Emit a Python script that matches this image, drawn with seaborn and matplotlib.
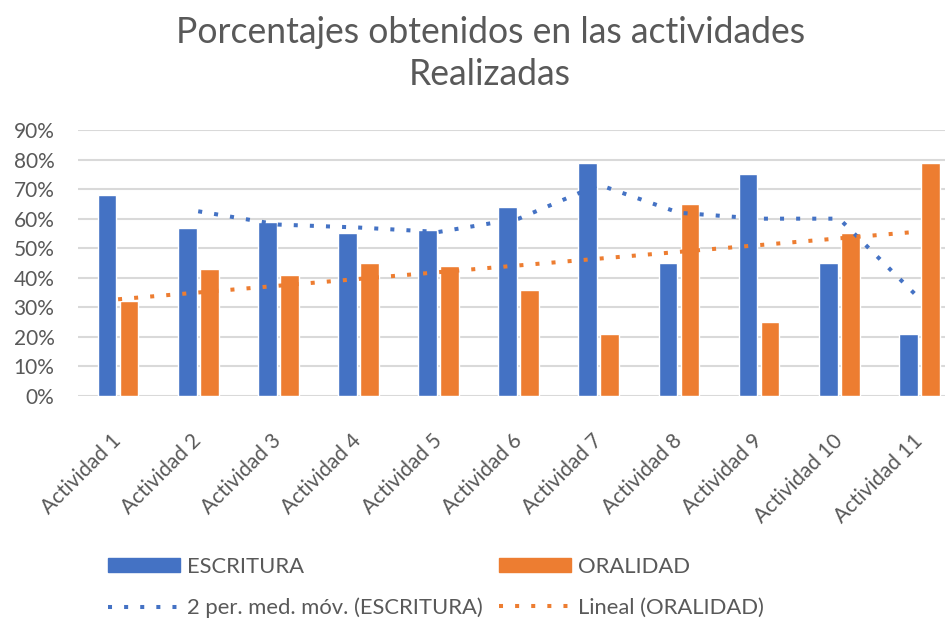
import numpy as np
import pandas as pd
import seaborn as sns
import matplotlib.pyplot as plt
from matplotlib.patches import Patch
from matplotlib.lines import Line2D
from matplotlib.ticker import FuncFormatter

actividades = ["Actividad %d" % i for i in range(1, 12)]
escritura = [68, 57, 59, 55, 56, 64, 79, 45, 75, 45, 21]
oralidad = [32, 43, 41, 45, 44, 36, 21, 65, 25, 55, 79]
series = ["ESCRITURA", "ORALIDAD"]

azul = "#4472C4"
naranja = "#ED7D31"
gris = "#595959"
punteado = (0, (1, 3))

sns.set_theme(style="white")
plt.rcParams['font.family'] = ['Lato', 'DejaVu Sans']

df = pd.DataFrame({
    "actividad": actividades * 2,
    "valor": escritura + oralidad,
    "serie": [series[0]] * 11 + [series[1]] * 11,
})

fig = plt.figure(figsize=(9.48, 6.24), dpi=100)
ax = fig.add_axes([78 / 948, 228 / 624, 867 / 948, 266 / 624])

sns.barplot(data=df, x="actividad", y="valor", hue="serie",
            palette=[azul, naranja], saturation=1, width=0.55, gap=0.15,
            ax=ax, legend=False)

# 2 per. media movil (escritura)
pos = np.arange(len(actividades))
esc = np.array(escritura, dtype=float)
media_movil = (esc[1:] + esc[:-1]) / 2
ax.plot(pos[1:], media_movil, color=azul, lw=2.9, ls=punteado, zorder=4)

# tendencia lineal (oralidad)
coef = np.polyfit(pos, oralidad, 1)
ax.plot(pos, np.polyval(coef, pos), color=naranja, lw=2.9, ls=punteado, zorder=4)

ax.set_ylim(0, 90)
ax.set_xlim(-0.5, 10.32)
ax.set_yticks(range(0, 91, 10))
ax.yaxis.set_major_formatter(FuncFormatter(lambda v, p: "%d%%" % v))
ax.grid(axis="y", color="#D9D9D9", lw=1.5)
ax.set_axisbelow(True)
for s in ax.spines.values():
    s.set_visible(False)
ax.set_xlabel("")
ax.set_ylabel("")
ax.tick_params(axis="y", length=0, pad=17, labelsize=15, labelcolor=gris)
ax.tick_params(axis="x", length=0, pad=30, labelsize=15, labelcolor=gris)
plt.setp(ax.get_xticklabels(), rotation=45, ha="right", va="center", rotation_mode="anchor")

fig.text(0.517, 0.975, "Porcentajes obtenidos en las actividades\nRealizadas",
         ha="center", va="top", fontsize=25.6, color=gris, linespacing=1.35)

handles = [
    Patch(color=azul),
    Line2D([], [], color=azul, lw=2.9, ls=punteado),
    Patch(color=naranja),
    Line2D([], [], color=naranja, lw=2.9, ls=punteado),
]
labels = ["ESCRITURA", "2 per. med. móv. (ESCRITURA)", "ORALIDAD", "Lineal (ORALIDAD)"]
fig.legend(handles, labels, ncol=2, loc="upper left", bbox_to_anchor=(99 / 948, 1 - 548 / 624),
           frameon=False, fontsize=15.8, labelcolor=gris, handlelength=3.27,
           handleheight=0.55, handletextpad=0.32, columnspacing=0.75, labelspacing=0.95,
           borderaxespad=0)

fig.savefig("out.png", dpi=100)
